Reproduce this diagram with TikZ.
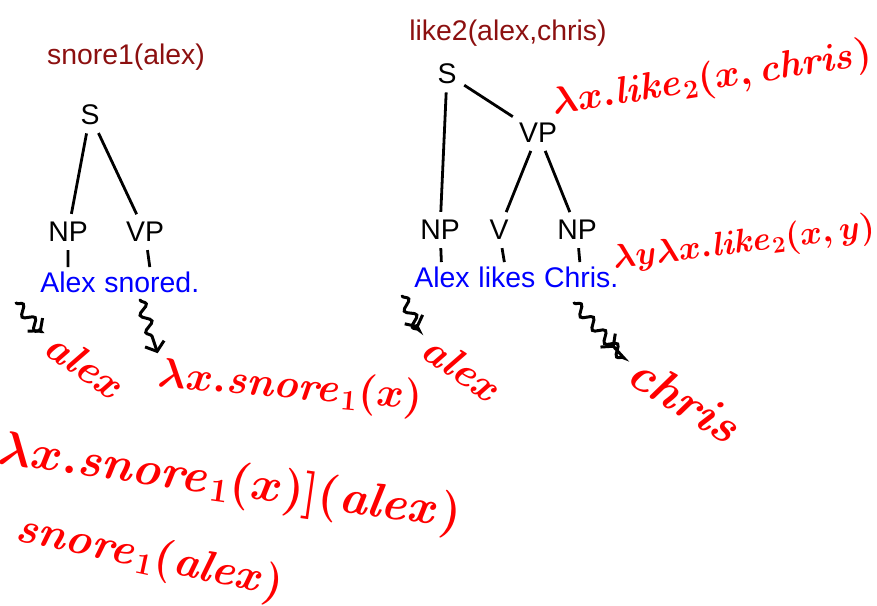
\documentclass[tikz,border=0pt]{standalone}
\usepackage[no-math]{fontspec}
\setmainfont{Liberation Sans}
\usepackage{amsmath}
\usetikzlibrary{arrows.meta,positioning,decorations.pathmorphing}
\definecolor{titlered}{RGB}{140,16,16}
\definecolor{wordblue}{RGB}{0,0,255}
\definecolor{handred}{RGB}{255,0,0}

\begin{document}
\begin{tikzpicture}[x=0.5pt, y=-0.5pt, >=Stealth,
  cat/.style={font=\fontsize{14.2}{17}\selectfont, inner sep=2pt},
  word/.style={font=\fontsize{14.2}{17}\selectfont, text=wordblue, inner sep=0pt},
  title/.style={font=\fontsize{14.2}{17}\selectfont, text=titlered},
  hand/.style={font=\fontsize{20.74}{24}\selectfont\boldmath, text=handred, inner sep=1pt, scale=#1},
  hand/.default=1,
  branch/.style={line width=1.4pt, shorten <=2pt, shorten >=2pt},
  leadsto/.style={line width=1.5pt, line cap=round, decorate,
    decoration={snake, amplitude=2.4pt, segment length=9pt, post length=5pt},
    -{Straight Barb[length=4pt, width=10pt]}}]
  \useasboundingbox (0,0) rectangle (877,605);

  % Define coordinates for nodes
  \node[title] (t1) at (126,57) {snore1(alex)};
  \node[cat] (S1) at (90,115) {S};
  \node[cat] (NP1) at (68,232) {NP};
  \node[cat] (VP1) at (145,232) {VP};
  \node[word, anchor=base west] (alex1) at (40,292) {Alex};
  \node[word, base right=4pt of alex1] (snored) {snored.};

  \node[title] (t2) at (508,33) {like2(alex,chris)};
  \node[cat] (S2) at (447,74) {S};
  \node[cat] (VP2) at (538,133) {VP};
  \node[cat] (NP2) at (440,230) {NP};
  \node[cat] (V2) at (499,230) {V};
  \node[cat] (NP3) at (577,230) {NP};
  \node[word, anchor=base west] (alex2) at (414,287) {Alex};
  \node[word, base right=4pt of alex2] (likes) {likes};
  \node[word, base right=4pt of likes] (chris) {Chris.};

  % handwritten meanings
  \node[hand=0.92, rotate=9] (L1) at (712,80) {$\lambda x.\mathit{like}_2(x,\mathit{chris})$};
  \node[hand=0.81, rotate=7] (L2) at (744,244) {$\lambda y\lambda x.\mathit{like}_2(x,y)$};
  \node[hand, rotate=-35] (a1) at (86,366) {$\mathit{alex}$};
  \node[hand, rotate=-5] (L3) at (290,388) {$\lambda x.\mathit{snore}_1(x)$};
  \node[hand, rotate=-35] (a2) at (463,369) {$\mathit{alex}$};
  \node[hand=1.18, rotate=-32] (c1) at (686,400) {$\mathit{chris}$};
  \node[hand=1.16, rotate=-8] (R1) at (230,484) {$\lambda x.\mathit{snore}_1(x)](\mathit{alex})$};
  \node[hand=1.06, rotate=-12] (R2) at (150,558) {$\mathit{snore}_1(\mathit{alex})$};

  \coordinate (q1) at (16,303);
  \coordinate (q2) at (140,300);
  \coordinate (q3) at (402,296);
  \coordinate (q4) at (574,303);

  % Draw branches between nodes
  \draw[branch] (S1) -- (NP1);
  \draw[branch] (S1) -- (VP1);
  \draw[branch] (NP1) -- (alex1);
  \draw[branch] (VP1) -- (snored);
  \draw[branch] (S2) -- (NP2);
  \draw[branch] (S2) -- (VP2);
  \draw[branch] (VP2) -- (V2);
  \draw[branch] (VP2) -- (NP3);
  \draw[branch] (NP2) -- (alex2);
  \draw[branch] (V2) -- (likes);
  \draw[branch] (NP3) -- (chris);

  % squiggles to meanings
  \draw[leadsto, shorten >=5pt] (q1) -- (a1.west);
  \draw[leadsto] (q2) -- (L3.north west);
  \draw[leadsto, shorten >=8pt] (q3) -- (a2.west);
  \draw[leadsto, shorten >=12pt] (q4) -- (c1.west);
\end{tikzpicture}
\end{document}
